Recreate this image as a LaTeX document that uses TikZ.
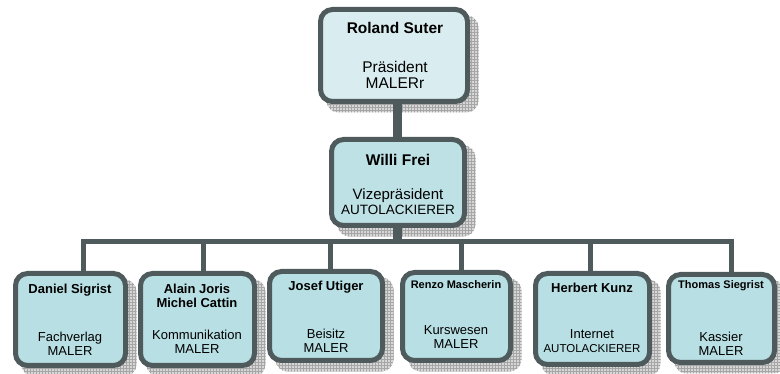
\documentclass[tikz,border=0pt]{standalone}
\usepackage{fontspec}
\setmainfont{Liberation Sans}
\usetikzlibrary{patterns,backgrounds,calc}
\definecolor{bordc}{RGB}{78,90,91}
\definecolor{fillbot}{RGB}{184,223,227}
\definecolor{filltop}{RGB}{217,236,239}
\definecolor{fillmid}{RGB}{190,225,229}
\definecolor{shadowc}{RGB}{215,215,215}
\tikzset{
  orgbox/.style={rectangle, draw=bordc, line width=5pt, rounded corners=12pt, fill=fillbot, inner sep=0pt, outer sep=0pt},
  conn/.style={draw=bordc, line width=5pt},
  mainconn/.style={draw=bordc, line width=9pt},
  shadowbox/.style={rounded corners=12pt, preaction={fill=shadowc}, pattern=grid, pattern color=gray!70},
  namebig/.style={font=\bfseries\fontsize{15.5}{17}\selectfont, align=center, inner sep=0pt},
  rolebig/.style={font=\fontsize{15.5}{16}\selectfont, align=center, inner sep=0pt},
  nametext/.style={font=\bfseries\fontsize{13}{14.5}\selectfont, align=center, inner sep=0pt},
  namesmall/.style={font=\bfseries\fontsize{11}{12}\selectfont, align=center, inner sep=0pt},
  roletext/.style={font=\fontsize{13}{14}\selectfont, align=center, inner sep=0pt},
}
\newcommand{\autosize}[1]{{\fontsize{11.5}{12}\selectfont #1}}
\newcommand{\automid}[1]{{\fontsize{13.5}{14}\selectfont #1}}
\begin{document}
\begin{tikzpicture}[x=1pt,y=-1pt]
\useasboundingbox (0,0) rectangle (780,374);
% boxes
\node[orgbox, fill=filltop, minimum width=147pt, minimum height=92pt] (pres) at (394,55.5) {};
\node[orgbox, fill=fillmid, minimum width=133pt, minimum height=86pt] (vize) at (398,182.5) {};
\node[orgbox, minimum width=110pt, minimum height=92pt] (daniel) at (70.5,319.5) {};
\node[orgbox, minimum width=114pt, minimum height=92pt] (alain) at (197.5,319.5) {};
\node[orgbox, minimum width=113pt, minimum height=89pt] (josef) at (326,316) {};
\node[orgbox, minimum width=108pt, minimum height=88pt] (renzo) at (456.5,316.5) {};
\node[orgbox, minimum width=114pt, minimum height=91pt] (herbert) at (592.5,319) {};
\node[orgbox, minimum width=106pt, minimum height=88pt] (thomas) at (721.5,318.5) {};
% shadows
\begin{scope}[on background layer]
\foreach \n in {pres,vize,daniel,alain,josef,renzo,herbert,thomas}{
  \fill[shadowbox] ($(\n.north west)+(6,6)$) rectangle ($(\n.south east)+(11,11)$);
}
\end{scope}
% connectors
\coordinate (busL) at (83,242);
\coordinate (busR) at (731,242);
\coordinate (d2) at (203,242);
\coordinate (d3) at (330,242);
\coordinate (d4) at (461,242);
\coordinate (d5) at (590,242);
\begin{scope}[on background layer]
\draw[mainconn] ([xshift=3pt]pres.south) -- ([xshift=-1pt]vize.north);
\draw[mainconn] ([xshift=-1pt]vize.south) -- ([xshift=-1pt]vize.south |- busL);
\draw[conn] (busL |- daniel.north) -- (busL) -- (busR) -- (busR |- thomas.north);
\draw[conn] (d2) -- (d2 |- alain.north);
\draw[conn] (d3) -- (d3 |- josef.north);
\draw[conn] (d4) -- (d4 |- renzo.north);
\draw[conn] (d5) -- (d5 |- herbert.north);
\end{scope}
% texts
\node[namebig] (presn) at (395,28) {Roland Suter};
\node[rolebig] (presr) at (395,75) {Präsident\\MALERr};
\node[namebig] (vizen) at (398,160) {Willi Frei};
\node[rolebig, font=\fontsize{15}{15}\selectfont] (vizer) at (398,202) {Vizepräsident\\\automid{AUTOLACKIERER}};
\node[nametext] (danieln) at (70,290) {Daniel Sigrist};
\node[roletext] (danielr) at (70,344) {Fachverlag\\MALER};
\node[nametext] (alainn) at (197,296) {Alain Joris\\Michel Cattin};
\node[roletext] (alainr) at (197,342) {Kommunikation\\MALER};
\node[nametext] (josefn) at (326,287) {Josef Utiger};
\node[roletext] (josefr) at (326,341) {Beisitz\\MALER};
\node[namesmall] (renzon) at (456,285) {Renzo Mascherin};
\node[roletext] (renzor) at (456,337) {Kurswesen\\MALER};
\node[nametext] (herbertn) at (592,288) {Herbert Kunz};
\node[roletext] (herbertr) at (592,341) {Internet\\\autosize{AUTOLACKIERER}};
\node[namesmall] (thomasn) at (721,286) {Thomas Siegrist};
\node[roletext] (thomasr) at (721,344) {Kassier\\MALER};
\end{tikzpicture}
\end{document}
